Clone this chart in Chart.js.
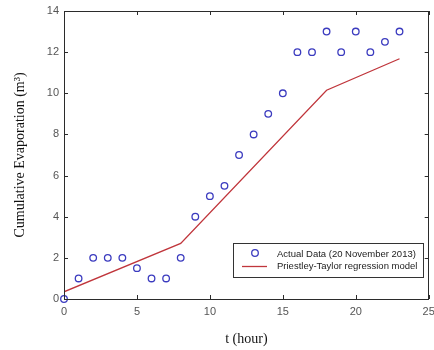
<!DOCTYPE html>
<html>
<head>
<meta charset="utf-8">
<script src="https://cdn.jsdelivr.net/npm/chart.js@4/dist/chart.umd.min.js"></script>
<style>
  html, body { margin: 0; padding: 0; background: #fff; }
  #wrap { width: 434px; height: 350px; }
</style>
</head>
<body>
<div id="wrap"><canvas id="c" width="434" height="350"></canvas></div>
<script>
// Measured hourly cumulative evaporation
const hours = [0, 1, 2, 3, 4, 5, 6, 7, 8, 9, 10, 11, 12, 13, 14, 15, 16, 17, 18, 19, 20, 21, 22, 23];
const actualEvap = [0, 1, 2, 2, 2, 1.5, 1, 1, 2, 4, 5, 5.5, 7, 8, 9, 10, 12, 12, 13, 12, 13, 12, 12.5, 13];

// Piecewise regression model (breakpoints)
const modelHours = [0, 8, 18, 23];
const modelEvap = [0.35, 2.7, 10.15, 11.68];

const xTicks = [0, 5, 10, 15, 20, 25];
const yTicks = [0, 2, 4, 6, 8, 10, 12, 14];

const seriesLabels = ['Actual Data (20 November 2013)', 'Priestley-Taylor regression model'];

const markerColor = '#3b3bbf';
const lineColor = '#c0363c';
const frameColor = '#2b2b2b';

// Inward tick marks and the box around the axes
const framePlugin = {
  id: 'frame',
  afterDraw(chart) {
    const { ctx, chartArea: a, scales: { x, y } } = chart;
    ctx.save();
    ctx.strokeStyle = frameColor;
    ctx.lineWidth = 1;
    ctx.strokeRect(Math.round(a.left) + 0.5, Math.round(a.top) + 0.5,
                   Math.round(a.right - a.left) - 1, Math.round(a.bottom - a.top));
    const len = 4;
    ctx.beginPath();
    xTicks.forEach(v => {
      const px = Math.round(x.getPixelForValue(v)) + 0.5;
      ctx.moveTo(px, a.bottom); ctx.lineTo(px, a.bottom - len);
      ctx.moveTo(px, a.top); ctx.lineTo(px, a.top + len);
    });
    yTicks.forEach(v => {
      const py = Math.round(y.getPixelForValue(v)) + 0.5;
      ctx.moveTo(a.left, py); ctx.lineTo(a.left + len, py);
      ctx.moveTo(a.right, py); ctx.lineTo(a.right - len, py);
    });
    ctx.stroke();
    ctx.restore();
  }
};

// Boxed legend inside the lower-right of the plot
const insideLegend = {
  id: 'insideLegend',
  afterDraw(chart) {
    const { ctx, chartArea: a } = chart;
    const ds = chart.data.datasets;
    const bx = 233, by = 243, bw = 190, bh = 34;
    ctx.save();
    ctx.fillStyle = '#fff';
    ctx.fillRect(bx, by, bw, bh);
    ctx.strokeStyle = '#333';
    ctx.lineWidth = 1;
    ctx.strokeRect(bx + 0.5, by + 0.5, bw, bh);

    // scatter entry
    ctx.strokeStyle = ds[0].borderColor;
    ctx.lineWidth = 1.3;
    ctx.beginPath();
    ctx.arc(255, 253, 3.3, 0, Math.PI * 2);
    ctx.stroke();
    // line entry
    ctx.strokeStyle = ds[1].borderColor;
    ctx.lineWidth = 1.3;
    ctx.beginPath();
    ctx.moveTo(242, 266.5); ctx.lineTo(267, 266.5);
    ctx.stroke();

    ctx.fillStyle = '#222';
    ctx.font = '9.5px "Liberation Sans Narrow", "Liberation Sans", Arial, sans-serif';
    ctx.textBaseline = 'middle';
    ctx.textAlign = 'left';
    ctx.fillText(ds[0].label, 277, 254);
    ctx.fillText(ds[1].label, 277, 266);
    ctx.restore();
  }
};

const scatterPoints = hours.map((h, i) => ({ x: h, y: actualEvap[i] }));
const modelPoints = modelHours.map((h, i) => ({ x: h, y: modelEvap[i] }));

new Chart(document.getElementById('c'), {
  type: 'scatter',
  data: {
    datasets: [
      {
        label: seriesLabels[0],
        data: scatterPoints,
        showLine: false,
        pointStyle: 'circle',
        pointRadius: 3.3,
        pointBorderWidth: 1.3,
        borderColor: markerColor,
        backgroundColor: 'rgba(0,0,0,0)',
        pointBackgroundColor: 'rgba(0,0,0,0)',
        clip: false,
        order: 1
      },
      {
        type: 'line',
        label: seriesLabels[1],
        data: modelPoints,
        borderColor: lineColor,
        borderWidth: 1.3,
        pointRadius: 0,
        tension: 0,
        fill: false,
        order: 2
      }
    ]
  },
  options: {
    responsive: false,
    animation: false,
    layout: { padding: { left: 0, right: 3, top: 11, bottom: 0 } },
    plugins: {
      legend: { display: false },
      tooltip: { enabled: false }
    },
    scales: {
      x: {
        type: 'linear',
        min: 0, max: 25,
        afterBuildTicks(s) { s.ticks = xTicks.map(v => ({ value: v })); },
        afterFit(s) { s.height = 51; s.paddingLeft = 0; s.paddingRight = 0; },
        grid: { display: false, drawTicks: false },
        border: { display: false },
        ticks: {
          padding: 6,
          color: '#555',
          font: { family: '"Liberation Sans", Arial, sans-serif', size: 11 },
          maxRotation: 0
        },
        title: {
          display: true,
          text: 't (hour)',
          color: '#111',
          font: { family: '"Liberation Serif", "Times New Roman", serif', size: 14 },
          padding: { top: 0, bottom: 2 }
        }
      },
      y: {
        type: 'linear',
        min: 0, max: 14,
        afterBuildTicks(s) { s.ticks = yTicks.map(v => ({ value: v })); },
        afterFit(s) { s.width = 64; s.paddingTop = 0; s.paddingBottom = 0; },
        grid: { display: false, drawTicks: false },
        border: { display: false },
        ticks: {
          padding: 5,
          color: '#555',
          font: { family: '"Liberation Sans", Arial, sans-serif', size: 11 }
        },
        title: {
          display: true,
          text: 'Cumulative Evaporation (m³)',
          color: '#111',
          font: { family: '"Liberation Serif", "Times New Roman", serif', size: 14 },
          padding: { top: 12, bottom: 0 }
        }
      }
    }
  },
  plugins: [framePlugin, insideLegend]
});
</script>
</body>
</html>
